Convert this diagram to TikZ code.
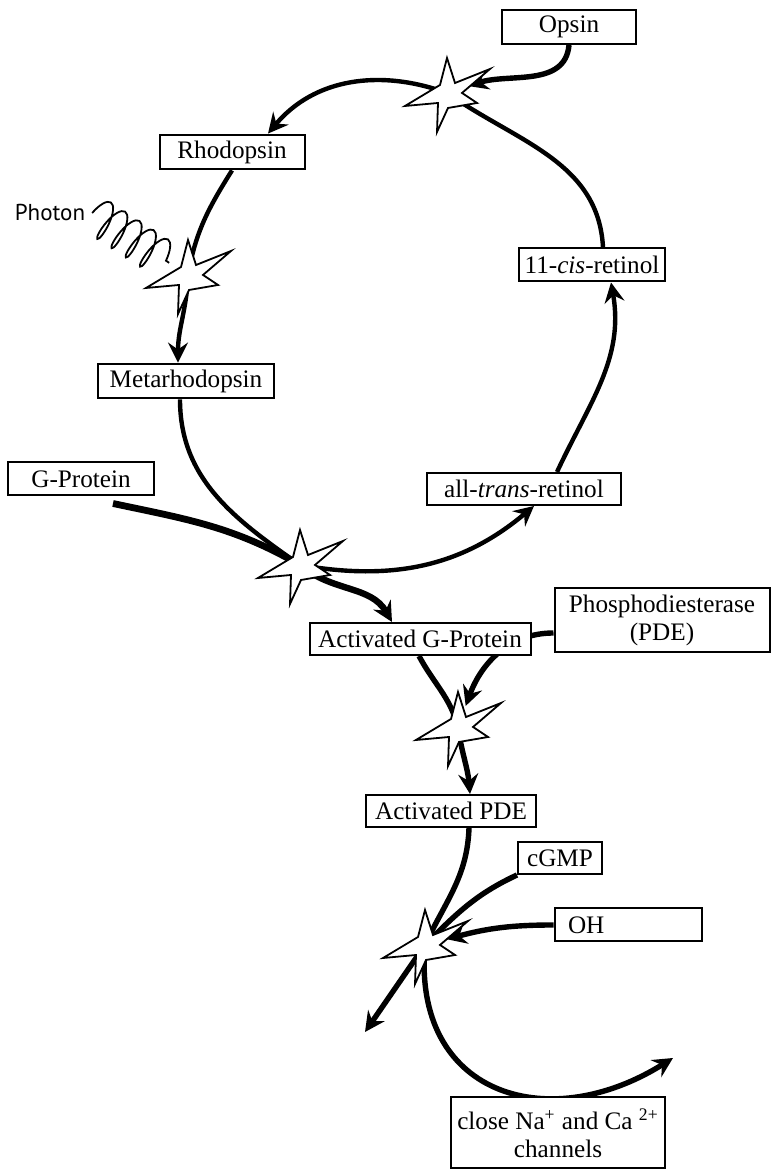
\documentclass[tikz,border=0pt]{standalone}
\usepackage{fontspec}
\setmainfont{Liberation Serif}
\newfontfamily\photonfont{PT Sans}
\usetikzlibrary{arrows.meta,decorations.pathmorphing}

\pgfdeclarelayer{background}
\pgfsetlayers{background,main}

\tikzset{
  box/.style={rectangle, draw=black, line width=1pt, fill=white, inner sep=3pt,
    font=\fontsize{12.6pt}{14pt}\selectfont},
  hub/.style={circle, minimum size=22pt, inner sep=0pt},
  ringarc/.style={line width=2.2pt},
  feedline/.style={line width=2.7pt},
  wave/.style={decorate, decoration={coil, amplitude=9.5pt, segment length=8.5pt,
    aspect=0.3}, line width=0.9pt},
  burst/.pic={
    \draw[line width=0.9pt, fill=white, line join=miter]
      (0,35) -- (8,10) -- (43,24) -- (15,0) -- (30,-10) -- (1,-15)
      -- (-10,-39) -- (-9,-10) -- (-42,-13) -- (-7,8) -- cycle;
  }
}

\begin{document}
\begin{tikzpicture}[x=0.5pt, y=0.5pt,
    >={Stealth[length=10pt, width=10pt, inset=3.5pt]}]
\useasboundingbox (0,0) rectangle (771,1170);

% boxes
\node[box, minimum width=67pt, minimum height=15.5pt] (opsin) at (569,1143) {Opsin};
\node[box, minimum width=72.5pt, minimum height=15.5pt] (rhodopsin) at (232,1018) {Rhodopsin};
\node[box, minimum width=88pt, minimum height=16pt] (metarhodopsin) at (186,789) {Metarhodopsin};
\node[box, minimum width=72.5pt, minimum height=16.5pt] (cisretinol) at (592,905) {11-\textit{cis}-retinol};
\node[box, minimum width=97pt, minimum height=16pt] (transretinol) at (524,681) {all-\textit{trans}-retinol};
\node[box, minimum width=73pt, minimum height=16.5pt] (gprotein) at (81,691) {G-Protein};
\node[box, minimum width=110.5pt, minimum height=16pt] (actgprotein) at (420,531) {Activated G-Protein};
\node[box, minimum width=107.5pt, minimum height=32pt, align=center] (pde) at (662,550) {Phosphodiesterase\\(PDE)};
\node[box, minimum width=85pt, minimum height=16pt] (actpde) at (451,359) {Activated PDE};
\node[box, minimum width=42pt, minimum height=16pt] (cgmp) at (560,312) {cGMP};
\node[box, minimum height=16.5pt, text width=60pt, inner xsep=6.75pt, align=left] (oh) at (628,245) {OH};
\node[box, minimum width=105pt, minimum height=35.5pt, align=center] (closech) at (558,37) {close Na\textsuperscript{+} and Ca \textsuperscript{2+}\\channels};

\node[font=\photonfont\fontsize{11.5pt}{13pt}\selectfont] (photon) at (50,957) {Photon};

% reaction sites
\node[hub] (s1) at (447,1077) {};
\node[hub] (s2) at (188,895) {};
\node[hub] (s3) at (300,605) {};
\node[hub] (s4) at (458,443) {};
\node[hub] (s5) at (425,225) {};
\pic at (s1) {burst};
\pic at (s2) {burst};
\pic at (s3) {burst};
\pic at (s4) {burst};
\pic at (s5) {burst};

\coordinate (drain) at (365,138);
\coordinate (shut) at (673,112);

\begin{pgfonlayer}{background}
% visual cycle
\draw[ringarc,->] (s1.center) to[out=160, in=50] ([xshift=18pt]rhodopsin.north);
\draw[ringarc] (rhodopsin.south) to[out=-122, in=80] (s2.center);
\draw[ringarc,->] (s2.center) to[out=-92, in=90] ([xshift=-4pt]metarhodopsin.north);
\draw[ringarc] ([xshift=-3pt]metarhodopsin.south) to[out=-90, in=145] (s3.center);
\draw[ringarc,->] (s3.center) to[out=-10, in=-140] ([xshift=5pt]transretinol.south);
\draw[ringarc,->] ([xshift=16.5pt]transretinol.north) to[out=65, in=-80] ([xshift=9.5pt]cisretinol.south);
\draw[ringarc] ([xshift=5.5pt]cisretinol.north) to[out=93, in=-35] (s1.center);
\draw[feedline,->] (opsin.south) to[out=-95, in=18] (s1);
\draw[wave] (photon.east) -- (s2);

% cascade
\draw[line width=3.4pt] ([xshift=16pt,yshift=-3.5pt]gprotein.south) to[out=-12, in=150] (s3.center);
\draw[line width=3.2pt,->] (s3.center) to[out=-40, in=120] ([xshift=-14pt]actgprotein.north);
\draw[feedline,->] ([yshift=-6.5pt]pde.west) to[out=180, in=70] (s4);
\draw[feedline] ([xshift=-0.5pt]actgprotein.south) to[out=-62, in=105] (s4.center);
\draw[feedline,->] (s4.center) to[out=-82, in=95] ([xshift=9.5pt]actpde.north);
\draw[feedline] ([xshift=9pt]actpde.south) to[out=-92, in=65] (s5.center);
\draw[feedline] (cgmp.south west) to[out=-155, in=45] (s5.center);
\draw[feedline,->] (oh.west) to[out=180, in=15] (s5);
\draw[feedline,->] (s5.center) -- (drain);
\draw[feedline,->] (s5.center) to[out=-95, in=-148, looseness=1.4] (shut);
\end{pgfonlayer}
\end{tikzpicture}
\end{document}
